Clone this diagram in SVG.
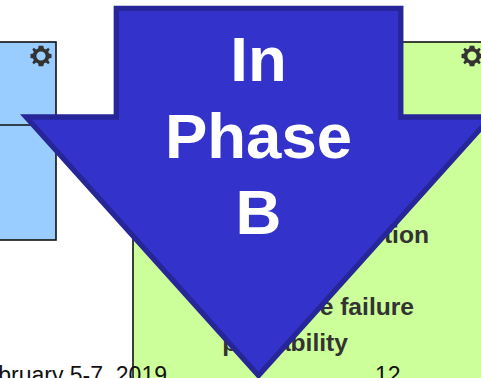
<svg xmlns="http://www.w3.org/2000/svg" width="481" height="378" viewBox="0 0 481 378">
<style>
text{font-family:"Liberation Sans",Arial,sans-serif}
.box{stroke:#111;stroke-width:1.6}
.blue{fill:#99ccff}
.green{fill:#ccff99}
.lbl{font-size:24.6px;font-weight:700;fill:#333;text-anchor:end}
.foot{font-size:23px;fill:#111}
.big{font-size:63.5px;font-weight:700;fill:#fff;text-anchor:middle}
.gear{fill:#333;fill-rule:evenodd}
</style>
<defs>
<path id="gear" d="M-2.3-10.2H2.3L2.9-7.4 4.9-6.6 7.2-8.2 8.7-6.5 7.2-4.3 7.9-2.4 10.5-1.9V1.9L7.9 2.4 7.2 4.3 8.7 6.5 7.2 8.2 4.9 6.6 2.9 7.4 2.3 10.2H-2.3L-2.9 7.4-4.9 6.6-7.2 8.2-8.7 6.5-7.2 4.3-7.9 2.4-10.5 1.9V-1.9L-7.9-2.4-7.2-4.3-8.7-6.5-7.2-8.2-4.9-6.6-2.9-7.4ZM0-4.6A4.6 4.6 0 1 0 0 4.6 4.6 4.6 0 1 0 0-4.6Z"/>
</defs>
<g id="node-blue">
<rect class="box blue" x="-10" y="42" width="66" height="198"/>
<line class="box" x1="-10" y1="125" x2="56" y2="125"/>
<use href="#gear" class="gear" x="41" y="56"/>
</g>
<g id="node-green">
<rect class="box green" x="133" y="42" width="370" height="360"/>
<use href="#gear" class="gear" x="472" y="56"/>
<text class="lbl" x="429" y="243">tion</text>
<text class="lbl" x="414" y="315">e failure</text>
<text class="lbl" x="348" y="351">probability</text>
</g>
<g id="footer">
<text class="foot" x="167" y="383" text-anchor="end">February 5-7, 2019</text>
<text class="foot" x="375" y="383">12</text>
</g>
<g id="connectors"/>
<g id="node-arrow">
<polygon points="116.3,8.4 400.8,8.4 400.8,117 491,117 258.5,375.5 26,117 116.3,117" fill="#3333cc" stroke="#262699" stroke-width="5.3" stroke-miterlimit="10"/>
<text class="big" x="258.5" y="81">In</text>
<text class="big" x="258.5" y="158">Phase</text>
<text class="big" x="258.5" y="234">B</text>
</g>
</svg>
